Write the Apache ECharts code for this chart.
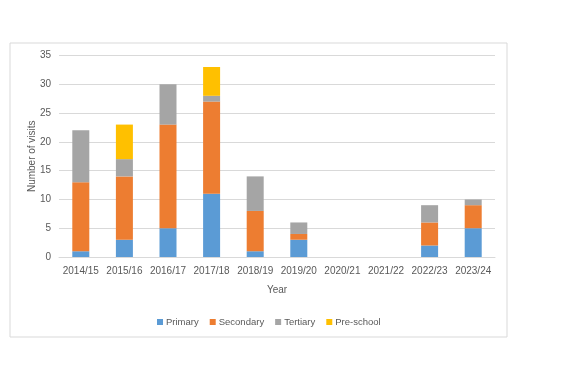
<!DOCTYPE html>
<html><head><meta charset="utf-8">
<script src="https://cdn.jsdelivr.net/npm/echarts@6/dist/echarts.min.js"></script>
<style>html,body{margin:0;padding:0;background:#fff;}#c{width:567px;height:378px;}</style>
</head><body><div id="c"></div>
<script>
const categories = ['2014/15','2015/16','2016/17','2017/18','2018/19','2019/20','2020/21','2021/22','2022/23','2023/24'];
const primary =    [1, 3, 5, 11, 1, 3, 0, 0, 2, 5];
const secondary =  [12, 11, 18, 16, 7, 1, 0, 0, 4, 4];
const tertiary =   [9, 3, 7, 1, 6, 2, 0, 0, 3, 1];
const preschool =  [0, 6, 0, 5, 0, 0, 0, 0, 0, 0];
const seriesNames = ['Primary','Secondary','Tertiary','Pre-school'];
const colors = ['#5B9BD5','#ED7D31','#A5A5A5','#FFC000'];

const font = 'Liberation Sans';
const txt = '#595959';
const chart = echarts.init(document.getElementById('c'));
const mk = (name, data, i) => ({
  name, type: 'bar', stack: 'total', data: data.map(v => v === 0 ? null : v),
  barWidth: '39%', itemStyle: { color: colors[i] }
});
chart.setOption({
  animation: false,
  textStyle: { fontFamily: font },
  graphic: [{ type: 'rect', shape: { x: 10, y: 43, width: 497, height: 294 },
    style: { fill: 'none', stroke: '#D9D9D9', lineWidth: 1 }, z: -1 }],
  grid: { left: 59, right: 72, top: 55.5, bottom: 121 },
  legend: {
    data: seriesNames, top: 312, left: 152,
    itemWidth: 6, itemHeight: 6, itemGap: 11, icon: 'rect',
    textStyle: { color: txt, fontSize: 9.5, fontFamily: font, padding: [0,0,0,-2] }
  },
  xAxis: {
    type: 'category', data: categories, name: 'Year', nameLocation: 'middle', nameGap: 28,
    nameTextStyle: { color: txt, fontSize: 10, fontFamily: font },
    axisLine: { lineStyle: { color: '#D9D9D9' } }, axisTick: { show: false },
    axisLabel: { color: txt, fontSize: 10, fontFamily: font, margin: 9, interval: 0 }
  },
  yAxis: {
    type: 'value', min: 0, max: 35, interval: 5,
    name: 'Number of visits', nameLocation: 'middle', nameGap: 22, nameMoveOverlap: false,
    nameTextStyle: { color: txt, fontSize: 10, fontFamily: font },
    axisLine: { show: false }, axisTick: { show: false },
    axisLabel: { color: txt, fontSize: 10, fontFamily: font, margin: 8 },
    splitLine: { lineStyle: { color: '#D9D9D9' } }
  },
  series: [mk(seriesNames[0], primary, 0), mk(seriesNames[1], secondary, 1),
           mk(seriesNames[2], tertiary, 2), mk(seriesNames[3], preschool, 3)]
});
</script></body></html>
